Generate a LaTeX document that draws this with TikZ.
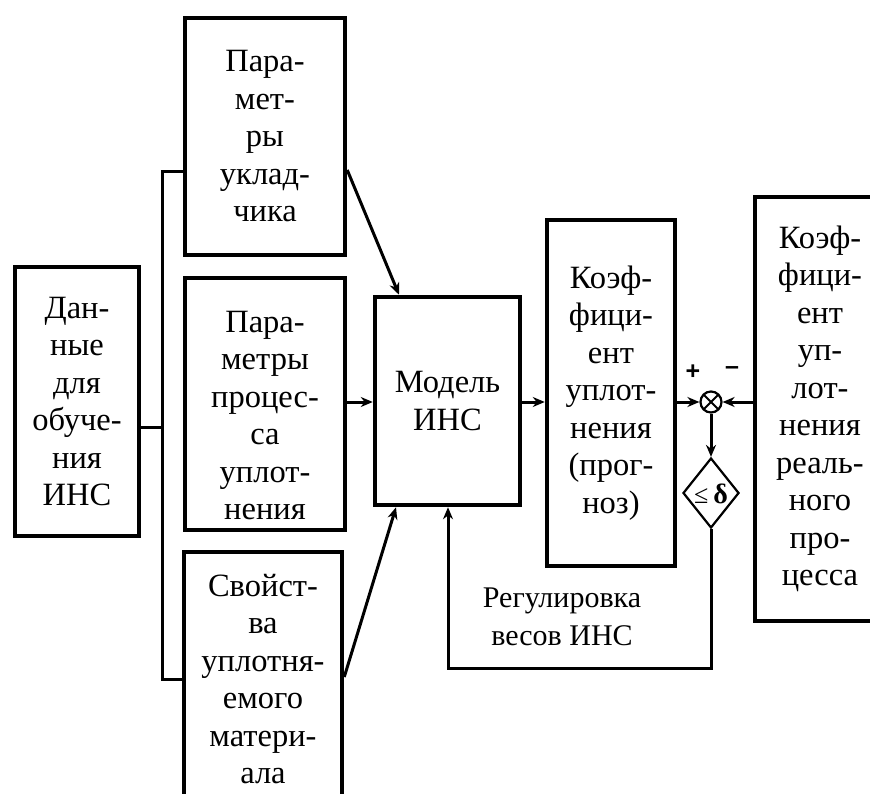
\documentclass[tikz,border=0pt]{standalone}
\usepackage{fontspec}
\setmainfont{Liberation Serif}
\newfontfamily\signfont{Liberation Sans}
\usetikzlibrary{arrows.meta,shapes.geometric,calc}

\begin{document}
\begin{tikzpicture}[x=1pt,y=-1pt,
  box/.style={draw, line width=4.5pt, inner sep=0pt, align=center,
              font=\fontsize{32.5}{37.5}\selectfont},
  link/.style={line width=3pt},
  arr/.style={link, -{Stealth[length=12pt,width=10pt]}},
  sign/.style={font=\signfont\bfseries\fontsize{25}{25}\selectfont},
]
\useasboundingbox (0,0) rectangle (870,794);
\clip (0,0) rectangle (870,794);

% blocks
\node[box, minimum width=124pt, minimum height=269pt] (data) at (77,401.5)
  {Дан-\\ные\\для\\обуче-\\ния\\ИНС};
\node[box, minimum width=160pt, minimum height=237pt] (p1) at (265,136.5)
  {Пара-\\мет-\\ры\\уклад-\\чика};
\node[box, minimum width=160pt, minimum height=252pt] (p2) at (265,404)
  {\rule{0pt}{44pt}Пара-\\метры\\процес-\\са\\уплот-\\нения};
\node[box, minimum width=158pt, minimum height=254pt] (p3) at (263,679)
  {Свойст-\\ва\\уплотня-\\емого\\матери-\\ала};
\node[box, minimum width=145pt, minimum height=208pt] (model) at (447.5,401)
  {Модель\\ИНС};
\node[box, minimum width=128pt, minimum height=346pt] (pred) at (611,393)
  {Коэф-\\фици-\\ент\\уплот-\\нения\\(прог-\\ноз)};
\node[box, minimum width=130pt, minimum height=424pt] (real) at (820,409)
  {Коэф-\\фици-\\ент\\уп-\\лот-\\нения\\реаль-\\ного\\про-\\цесса};

% comparator and threshold check
\node[circle, draw, line width=2.2pt, minimum size=21pt, inner sep=0pt] (sum) at (711,402) {};
\draw[line width=1.8pt] ($(sum)+(-7,-7)$) -- ($(sum)+(7,7)$)
                        ($(sum)+(-7,7)$) -- ($(sum)+(7,-7)$);
\node[sign] (plus) at (693,372) {+};
\node[sign] (minus) at (732,371) {–};
\node[diamond, draw, line width=2.2pt, minimum width=56pt, minimum height=70pt,
      inner sep=0pt] (dia) at (711,493) {};
\node[inner sep=0pt] (diatext) at (711,494)
  {{\fontsize{26}{26}\selectfont ≤}\hspace{5pt}{\fontsize{28}{28}\selectfont\bfseries δ}};

% input bus
\coordinate (busT) at (162,172);
\coordinate (busM) at (162,427);
\coordinate (busB) at (162,679);
\draw[link] (p1.west |- busT) -- (busT) -- (busB) -- (p3.west |- busB);
\draw[link] (data.east |- busM) -- (busM);

% inputs to the model
\draw[arr] (p1.east |- 0,170) -- (model.north -| 399,0);
\draw[arr] (p2.east |- 0,402) -- (model.west |- 0,402);
\draw[arr] (p3.east |- 0,677) -- (model.south -| 396,0);

% forward path
\draw[arr] (model.east |- 0,402) -- (pred.west |- 0,402);
\draw[arr] (pred.east |- sum) -- (sum.west);
\draw[arr] (real.west |- sum) -- (sum.east);
\draw[arr] (sum.south) -- (dia.north);

% weight adjustment loop
\coordinate (fbR) at (711,668);
\coordinate (fbL) at (448,668);
\draw[arr] (dia.south) -- (fbR) -- (fbL) -- (model.south -| fbL);
\node[align=center, font=\fontsize{30}{38}\selectfont] (adj) at (562,617)
  {Регулировка\\весов ИНС};
\end{tikzpicture}
\end{document}
